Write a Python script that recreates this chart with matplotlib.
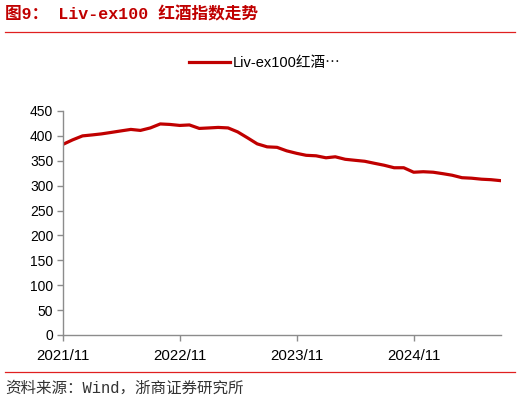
import matplotlib.pyplot as plt
import matplotlib.dates as mdates
import pandas as pd
from matplotlib.lines import Line2D

# Liv-ex100 monthly index values, 2021/11 onward
values = [383, 392, 400, 402, 404, 407, 410, 413, 411, 416,
          424, 423, 421, 422, 415, 416, 417, 416, 408, 396,
          384, 378, 377, 370, 365, 361, 360, 356, 358, 353,
          351, 349, 345, 341, 336, 336, 327, 328, 327, 324,
          321, 316, 315, 313, 312, 310]
months = pd.date_range('2021-11-01', periods=len(values), freq='MS')
tick_dates = pd.to_datetime(['2021-11-01', '2022-11-01', '2023-11-01', '2024-11-01'])
yticks = list(range(0, 451, 50))

series_name = 'Liv-ex100红酒⋯'
title = '图9： Liv-ex100 红酒指数走势'
source = '资料来源：Wind，浙商证券研究所'

RED = '#C00000'
GRAY = '#8c8c8c'
SANS = ['Liberation Sans', 'Noto Sans CJK SC', 'DejaVu Sans']
SERIF = ['Liberation Mono', 'Noto Sans CJK SC']


def main():
    fig = plt.figure(figsize=(5.2, 4.03), dpi=100)
    ax = fig.add_axes([63 / 520, 1 - 335 / 403, (501 - 63) / 520, (335 - 111) / 403])

    ax.plot(months, values, color=RED, lw=2.3, solid_capstyle='round')

    ax.set_ylim(0, 450)
    ax.set_yticks(yticks)
    ax.set_xlim(months[0], months[-1])
    ax.set_xticks(tick_dates)
    ax.xaxis.set_major_formatter(mdates.DateFormatter('%Y/%m'))

    for s in ['top', 'right']:
        ax.spines[s].set_visible(False)
    for s in ['left', 'bottom']:
        ax.spines[s].set_color(GRAY)
        ax.spines[s].set_linewidth(1.0)
    ax.tick_params(axis='both', direction='out', length=4, color=GRAY, width=1.0)
    ax.tick_params(axis='y', pad=3)
    ax.tick_params(axis='x', pad=6)
    for lab in ax.get_yticklabels():
        lab.set_fontfamily(SANS)
        lab.set_fontsize(10)
    for lab in ax.get_xticklabels():
        lab.set_fontfamily(SANS)
        lab.set_fontsize(10.8)

    handle = Line2D([], [], color=RED, lw=2.3)
    fig.legend([handle], [series_name], loc='center', bbox_to_anchor=(0.51, 0.844),
               frameon=False, handlelength=2.8, handletextpad=0.2,
               prop={'family': SANS, 'size': 10.5})

    fig.text(5 / 520, 1 - 14 / 403, title, color=RED, fontsize=12, fontweight='bold',
             family=SERIF, va='center', ha='left')
    fig.text(5 / 520, 1 - 388 / 403, source, color='#333333', fontsize=11.2,
             family=SERIF, va='center', ha='left')

    fig.add_artist(Line2D([5 / 520, 515 / 520], [1 - 32 / 403] * 2, color='#E02020', lw=0.9))
    fig.add_artist(Line2D([5 / 520, 515 / 520], [1 - 372 / 403] * 2, color='#E02020', lw=0.9))

    fig.savefig('out.png', dpi=100)


if __name__ == '__main__':
    main()
